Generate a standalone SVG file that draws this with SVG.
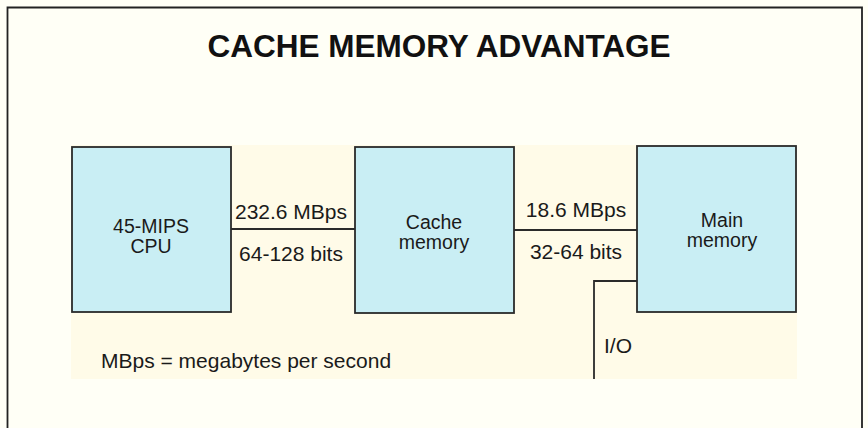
<svg xmlns="http://www.w3.org/2000/svg" width="868" height="428" viewBox="0 0 868 428">
<style>
text{font-family:"Liberation Sans",Arial,sans-serif;fill:#1a1a1a;font-size:21px}
.c{text-anchor:middle}
.n{font-size:19.5px}
.title{font-weight:bold;font-size:31.5px;fill:#111}
.box{fill:#c9eef4;stroke:#2a2a2a;stroke-width:1.8}
.ln{stroke:#2a2a2a;stroke-width:1.8;fill:none}
</style>
<rect width="868" height="428" fill="#fffff6"/>
<path d="M7.5,428 V7.5 H862 V428" fill="none" stroke="#222" stroke-width="1.8"/>
<rect x="71" y="145" width="726" height="234" fill="#fffbe8"/>
<text class="title c" x="439" y="57">CACHE MEMORY ADVANTAGE</text>
<g id="connectors">
<line class="ln" x1="231" y1="229" x2="355" y2="229"/>
<line class="ln" x1="514" y1="230" x2="637" y2="230"/>
<path class="ln" d="M637,281 H594 V379"/>
</g>
<g id="cpu">
<rect class="box" x="72" y="147" width="159" height="165"/>
<text class="c n" x="151" y="232.5">45-MIPS</text>
<text class="c n" x="151" y="252.5">CPU</text>
</g>
<g id="cache">
<rect class="box" x="355" y="147" width="159" height="166"/>
<text class="c n" x="434" y="228.5">Cache</text>
<text class="c n" x="434" y="248.5">memory</text>
</g>
<g id="main">
<rect class="box" x="637" y="146" width="159" height="166"/>
<text class="c n" x="722" y="227">Main</text>
<text class="c n" x="722" y="247">memory</text>
</g>
<g id="labels">
<text class="c" x="291" y="219">232.6 MBps</text>
<text class="c" x="291" y="261">64-128 bits</text>
<text class="c" x="576" y="217">18.6 MBps</text>
<text class="c" x="576" y="259">32-64 bits</text>
<text x="604" y="353">I/O</text>
<text x="101" y="368">MBps = megabytes per second</text>
</g>
</svg>
